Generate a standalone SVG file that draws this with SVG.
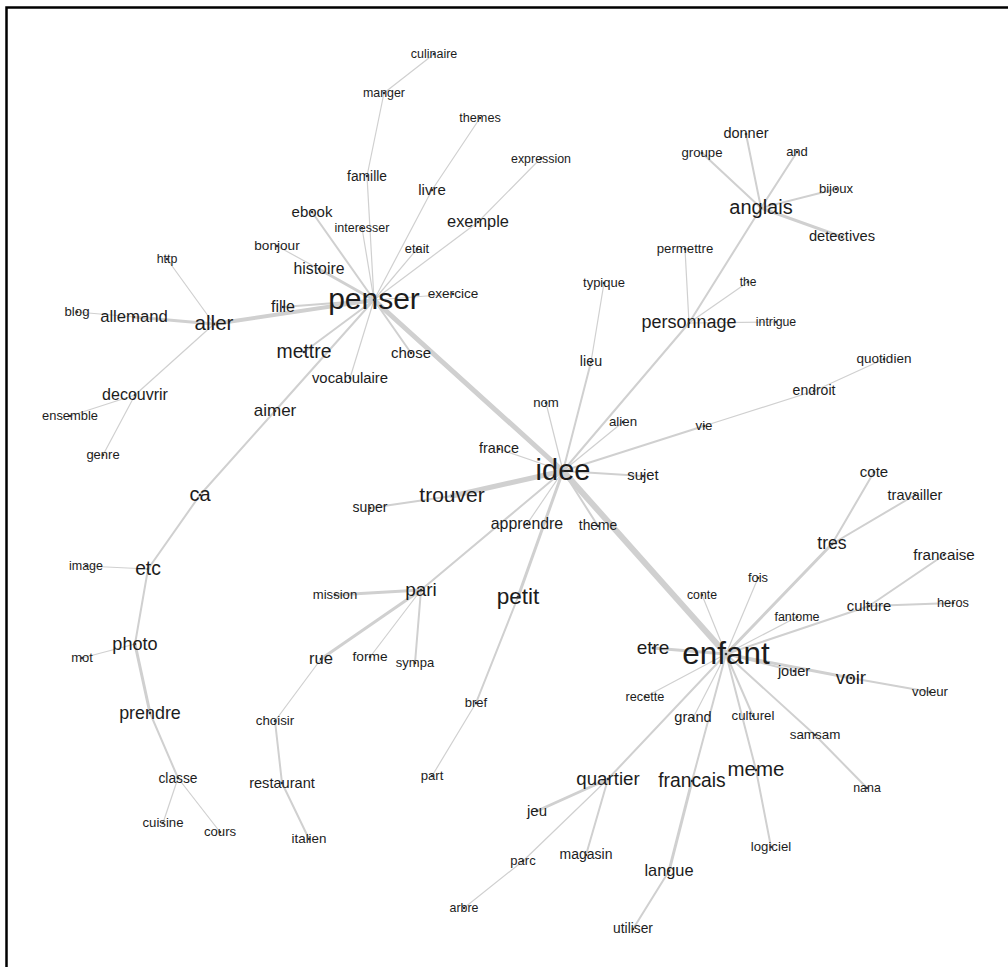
<svg xmlns="http://www.w3.org/2000/svg" width="1008" height="967" viewBox="0 0 1008 967">
<style>
.e{stroke:#d0d0d0;fill:none;stroke-linecap:round}
.w1{stroke-width:1.2}.w2{stroke-width:2}.w3{stroke-width:3}.w4{stroke-width:4}.w5{stroke-width:5}.w6{stroke-width:6}
text{font-family:"Liberation Sans",Arial,Helvetica,sans-serif;fill:#1c1c1c;text-anchor:middle}
circle{fill:#333}
</style>
<rect x="0" y="0" width="1008" height="967" fill="#ffffff"/>
<path d="M6.5 967 V7.5 H1008" fill="none" stroke="#000" stroke-width="2.5"/>
<g id="connectors">
<line class="e w1" x1="434" y1="54" x2="384" y2="93"/>
<line class="e w1" x1="384" y1="93" x2="367" y2="176"/>
<line class="e w1" x1="367" y1="176" x2="374" y2="300"/>
<line class="e w1" x1="480" y1="118" x2="432" y2="190"/>
<line class="e w1" x1="432" y1="190" x2="374" y2="300"/>
<line class="e w1" x1="541" y1="158" x2="478" y2="222"/>
<line class="e w1" x1="478" y1="222" x2="374" y2="300"/>
<line class="e w2" x1="312" y1="212" x2="374" y2="300"/>
<line class="e w1" x1="362" y1="228" x2="374" y2="300"/>
<line class="e w1" x1="277" y1="246" x2="319" y2="269"/>
<line class="e w3" x1="319" y1="269" x2="374" y2="300"/>
<line class="e w1" x1="417" y1="249" x2="374" y2="300"/>
<line class="e w1" x1="453" y1="294" x2="374" y2="300"/>
<line class="e w2" x1="283" y1="307" x2="374" y2="300"/>
<line class="e w4" x1="214" y1="324" x2="374" y2="300"/>
<line class="e w2" x1="304" y1="352" x2="374" y2="300"/>
<line class="e w1" x1="350" y1="378" x2="374" y2="300"/>
<line class="e w2" x1="411" y1="353" x2="374" y2="300"/>
<line class="e w2" x1="275" y1="411" x2="374" y2="300"/>
<line class="e w5" x1="374" y1="300" x2="563" y2="471"/>
<line class="e w1" x1="214" y1="324" x2="167" y2="259"/>
<line class="e w3" x1="214" y1="324" x2="134" y2="317"/>
<line class="e w1" x1="134" y1="317" x2="77" y2="312"/>
<line class="e w1" x1="214" y1="324" x2="135" y2="395"/>
<line class="e w1" x1="135" y1="395" x2="70" y2="416"/>
<line class="e w1" x1="135" y1="395" x2="103" y2="455"/>
<line class="e w2" x1="275" y1="411" x2="200" y2="495"/>
<line class="e w2" x1="200" y1="495" x2="148" y2="569"/>
<line class="e w1" x1="148" y1="569" x2="86" y2="566"/>
<line class="e w2" x1="148" y1="569" x2="135" y2="644"/>
<line class="e w1" x1="135" y1="644" x2="82" y2="658"/>
<line class="e w3" x1="135" y1="644" x2="150" y2="713"/>
<line class="e w2" x1="150" y1="713" x2="178" y2="778"/>
<line class="e w1" x1="178" y1="778" x2="220" y2="832"/>
<line class="e w1" x1="178" y1="778" x2="163" y2="823"/>
<line class="e w2" x1="563" y1="471" x2="421" y2="590"/>
<line class="e w3" x1="421" y1="590" x2="335" y2="595"/>
<line class="e w3" x1="421" y1="590" x2="321" y2="659"/>
<line class="e w1" x1="421" y1="590" x2="370" y2="657"/>
<line class="e w2" x1="421" y1="590" x2="415" y2="663"/>
<line class="e w1" x1="321" y1="659" x2="275" y2="721"/>
<line class="e w2" x1="275" y1="721" x2="282" y2="783"/>
<line class="e w2" x1="282" y1="783" x2="309" y2="839"/>
<line class="e w3" x1="563" y1="471" x2="518" y2="597"/>
<line class="e w2" x1="518" y1="597" x2="476" y2="703"/>
<line class="e w1" x1="476" y1="703" x2="432" y2="776"/>
<line class="e w5" x1="563" y1="471" x2="452" y2="496"/>
<line class="e w2" x1="452" y1="496" x2="370" y2="508"/>
<line class="e w1" x1="563" y1="471" x2="527" y2="524"/>
<line class="e w2" x1="563" y1="471" x2="598" y2="526"/>
<line class="e w6" x1="563" y1="471" x2="726" y2="654"/>
<line class="e w1" x1="563" y1="471" x2="499" y2="449"/>
<line class="e w1" x1="563" y1="471" x2="546" y2="403"/>
<line class="e w2" x1="563" y1="471" x2="591" y2="362"/>
<line class="e w1" x1="591" y1="362" x2="604" y2="283"/>
<line class="e w1" x1="563" y1="471" x2="623" y2="422"/>
<line class="e w2" x1="563" y1="471" x2="689" y2="323"/>
<line class="e w2" x1="689" y1="323" x2="761" y2="208"/>
<line class="e w1" x1="689" y1="323" x2="685" y2="249"/>
<line class="e w1" x1="689" y1="323" x2="748" y2="282"/>
<line class="e w1" x1="689" y1="323" x2="776" y2="322"/>
<line class="e w2" x1="761" y1="208" x2="702" y2="153"/>
<line class="e w2" x1="761" y1="208" x2="746" y2="134"/>
<line class="e w2" x1="761" y1="208" x2="797" y2="152"/>
<line class="e w2" x1="761" y1="208" x2="836" y2="189"/>
<line class="e w3" x1="761" y1="208" x2="842" y2="237"/>
<line class="e w2" x1="563" y1="471" x2="704" y2="426"/>
<line class="e w1" x1="704" y1="426" x2="814" y2="391"/>
<line class="e w1" x1="814" y1="391" x2="884" y2="359"/>
<line class="e w2" x1="563" y1="471" x2="643" y2="476"/>
<line class="e w3" x1="726" y1="654" x2="653" y2="648"/>
<line class="e w1" x1="726" y1="654" x2="702" y2="595"/>
<line class="e w1" x1="726" y1="654" x2="758" y2="578"/>
<line class="e w3" x1="726" y1="654" x2="832" y2="544"/>
<line class="e w2" x1="832" y1="544" x2="874" y2="472"/>
<line class="e w2" x1="832" y1="544" x2="915" y2="495"/>
<line class="e w1" x1="726" y1="654" x2="797" y2="617"/>
<line class="e w2" x1="726" y1="654" x2="869" y2="606"/>
<line class="e w2" x1="869" y1="606" x2="953" y2="603"/>
<line class="e w2" x1="869" y1="606" x2="944" y2="555"/>
<line class="e w2" x1="726" y1="654" x2="794" y2="671"/>
<line class="e w3" x1="726" y1="654" x2="851" y2="678"/>
<line class="e w2" x1="851" y1="678" x2="930" y2="692"/>
<line class="e w1" x1="726" y1="654" x2="645" y2="697"/>
<line class="e w1" x1="726" y1="654" x2="693" y2="718"/>
<line class="e w2" x1="726" y1="654" x2="608" y2="779"/>
<line class="e w3" x1="608" y1="779" x2="537" y2="811"/>
<line class="e w1" x1="608" y1="779" x2="523" y2="861"/>
<line class="e w1" x1="523" y1="861" x2="464" y2="908"/>
<line class="e w2" x1="608" y1="779" x2="586" y2="855"/>
<line class="e w2" x1="726" y1="654" x2="692" y2="781"/>
<line class="e w3" x1="692" y1="781" x2="669" y2="871"/>
<line class="e w2" x1="669" y1="871" x2="633" y2="929"/>
<line class="e w2" x1="726" y1="654" x2="753" y2="716"/>
<line class="e w2" x1="726" y1="654" x2="756" y2="770"/>
<line class="e w2" x1="756" y1="770" x2="771" y2="847"/>
<line class="e w2" x1="726" y1="654" x2="815" y2="735"/>
<line class="e w2" x1="815" y1="735" x2="867" y2="788"/>
</g>
<g id="n-penser"><text x="374" y="309" font-size="30">penser</text><circle cx="374" cy="300" r="1.3"/></g>
<g id="n-culinaire"><text x="434" y="58" font-size="12.5">culinaire</text><circle cx="434" cy="54" r="1.3"/></g>
<g id="n-manger"><text x="384" y="97" font-size="12.4">manger</text><circle cx="384" cy="93" r="1.3"/></g>
<g id="n-themes"><text x="480" y="122" font-size="12.7">themes</text><circle cx="480" cy="118" r="1.3"/></g>
<g id="n-expression"><text x="541" y="163" font-size="12.4">expression</text><circle cx="541" cy="158" r="1.3"/></g>
<g id="n-famille"><text x="367" y="181" font-size="13.8">famille</text><circle cx="367" cy="176" r="1.3"/></g>
<g id="n-livre"><text x="432" y="195" font-size="15">livre</text><circle cx="432" cy="190" r="1.3"/></g>
<g id="n-ebook"><text x="312" y="217" font-size="15">ebook</text><circle cx="312" cy="212" r="1.3"/></g>
<g id="n-interesser"><text x="362" y="232" font-size="12.5">interesser</text><circle cx="362" cy="228" r="1.3"/></g>
<g id="n-exemple"><text x="478" y="227" font-size="16.4">exemple</text><circle cx="478" cy="222" r="1.3"/></g>
<g id="n-bonjour"><text x="277" y="250" font-size="13.6">bonjour</text><circle cx="277" cy="246" r="1.3"/></g>
<g id="n-etait"><text x="417" y="253" font-size="12.9">etait</text><circle cx="417" cy="249" r="1.3"/></g>
<g id="n-histoire"><text x="319" y="274" font-size="15.8">histoire</text><circle cx="319" cy="269" r="1.3"/></g>
<g id="n-exercice"><text x="453" y="298" font-size="13.6">exercice</text><circle cx="453" cy="294" r="1.3"/></g>
<g id="n-fille"><text x="283" y="312" font-size="16">fille</text><circle cx="283" cy="307" r="1.3"/></g>
<g id="n-http"><text x="167" y="263" font-size="12.4">http</text><circle cx="167" cy="259" r="1.3"/></g>
<g id="n-blog"><text x="77" y="316" font-size="13.2">blog</text><circle cx="77" cy="312" r="1.3"/></g>
<g id="n-allemand"><text x="134" y="322" font-size="16.7">allemand</text><circle cx="134" cy="317" r="1.3"/></g>
<g id="n-aller"><text x="214" y="330" font-size="20.6">aller</text><circle cx="214" cy="324" r="1.3"/></g>
<g id="n-mettre"><text x="304" y="358" font-size="19.4">mettre</text><circle cx="304" cy="352" r="1.3"/></g>
<g id="n-chose"><text x="411" y="358" font-size="15">chose</text><circle cx="411" cy="353" r="1.3"/></g>
<g id="n-vocabulaire"><text x="350" y="383" font-size="14.9">vocabulaire</text><circle cx="350" cy="378" r="1.3"/></g>
<g id="n-decouvrir"><text x="135" y="400" font-size="16">decouvrir</text><circle cx="135" cy="395" r="1.3"/></g>
<g id="n-ensemble"><text x="70" y="420" font-size="12.9">ensemble</text><circle cx="70" cy="416" r="1.3"/></g>
<g id="n-aimer"><text x="275" y="416" font-size="17">aimer</text><circle cx="275" cy="411" r="1.3"/></g>
<g id="n-genre"><text x="103" y="459" font-size="13">genre</text><circle cx="103" cy="455" r="1.3"/></g>
<g id="n-ca"><text x="200" y="501" font-size="20">ca</text><circle cx="200" cy="495" r="1.3"/></g>
<g id="n-image"><text x="86" y="570" font-size="12.5">image</text><circle cx="86" cy="566" r="1.3"/></g>
<g id="n-etc"><text x="148" y="575" font-size="19.3">etc</text><circle cx="148" cy="569" r="1.3"/></g>
<g id="n-photo"><text x="135" y="650" font-size="18.1">photo</text><circle cx="135" cy="644" r="1.3"/></g>
<g id="n-mot"><text x="82" y="662" font-size="13">mot</text><circle cx="82" cy="658" r="1.3"/></g>
<g id="n-prendre"><text x="150" y="719" font-size="17.9">prendre</text><circle cx="150" cy="713" r="1.3"/></g>
<g id="n-classe"><text x="178" y="783" font-size="13.8">classe</text><circle cx="178" cy="778" r="1.3"/></g>
<g id="n-cuisine"><text x="163" y="827" font-size="13.2">cuisine</text><circle cx="163" cy="823" r="1.3"/></g>
<g id="n-cours"><text x="220" y="836" font-size="13.2">cours</text><circle cx="220" cy="832" r="1.3"/></g>
<g id="n-choisir"><text x="275" y="725" font-size="13.3">choisir</text><circle cx="275" cy="721" r="1.3"/></g>
<g id="n-restaurant"><text x="282" y="788" font-size="14.6">restaurant</text><circle cx="282" cy="783" r="1.3"/></g>
<g id="n-italien"><text x="309" y="843" font-size="13.4">italien</text><circle cx="309" cy="839" r="1.3"/></g>
<g id="n-rue"><text x="321" y="664" font-size="16.6">rue</text><circle cx="321" cy="659" r="1.3"/></g>
<g id="n-pari"><text x="421" y="596" font-size="19">pari</text><circle cx="421" cy="590" r="1.3"/></g>
<g id="n-petit"><text x="518" y="604" font-size="22.6">petit</text><circle cx="518" cy="597" r="1.3"/></g>
<g id="n-mission"><text x="335" y="599" font-size="13.1">mission</text><circle cx="335" cy="595" r="1.3"/></g>
<g id="n-forme"><text x="370" y="661" font-size="13.7">forme</text><circle cx="370" cy="657" r="1.3"/></g>
<g id="n-sympa"><text x="415" y="667" font-size="13">sympa</text><circle cx="415" cy="663" r="1.3"/></g>
<g id="n-bref"><text x="476" y="707" font-size="13">bref</text><circle cx="476" cy="703" r="1.3"/></g>
<g id="n-part"><text x="432" y="780" font-size="13.2">part</text><circle cx="432" cy="776" r="1.3"/></g>
<g id="n-typique"><text x="604" y="287" font-size="13">typique</text><circle cx="604" cy="283" r="1.3"/></g>
<g id="n-permettre"><text x="685" y="253" font-size="13.2">permettre</text><circle cx="685" cy="249" r="1.3"/></g>
<g id="n-the"><text x="748" y="286" font-size="12">the</text><circle cx="748" cy="282" r="1.3"/></g>
<g id="n-groupe"><text x="702" y="157" font-size="13.2">groupe</text><circle cx="702" cy="153" r="1.3"/></g>
<g id="n-donner"><text x="746" y="138" font-size="14.5">donner</text><circle cx="746" cy="134" r="1.3"/></g>
<g id="n-and"><text x="797" y="156" font-size="13">and</text><circle cx="797" cy="152" r="1.3"/></g>
<g id="n-bijoux"><text x="836" y="193" font-size="13.1">bijoux</text><circle cx="836" cy="189" r="1.3"/></g>
<g id="n-anglais"><text x="761" y="214" font-size="20">anglais</text><circle cx="761" cy="208" r="1.3"/></g>
<g id="n-detectives"><text x="842" y="241" font-size="14.7">detectives</text><circle cx="842" cy="237" r="1.3"/></g>
<g id="n-personnage"><text x="689" y="328" font-size="18">personnage</text><circle cx="689" cy="323" r="1.3"/></g>
<g id="n-intrigue"><text x="776" y="326" font-size="12.3">intrigue</text><circle cx="776" cy="322" r="1.3"/></g>
<g id="n-lieu"><text x="591" y="366" font-size="14.3">lieu</text><circle cx="591" cy="362" r="1.3"/></g>
<g id="n-quotidien"><text x="884" y="363" font-size="13.5">quotidien</text><circle cx="884" cy="359" r="1.3"/></g>
<g id="n-endroit"><text x="814" y="395" font-size="14">endroit</text><circle cx="814" cy="391" r="1.3"/></g>
<g id="n-nom"><text x="546" y="407" font-size="13.2">nom</text><circle cx="546" cy="403" r="1.3"/></g>
<g id="n-alien"><text x="623" y="426" font-size="13.3">alien</text><circle cx="623" cy="422" r="1.3"/></g>
<g id="n-vie"><text x="704" y="430" font-size="13.3">vie</text><circle cx="704" cy="426" r="1.3"/></g>
<g id="n-france"><text x="499" y="453" font-size="14.4">france</text><circle cx="499" cy="449" r="1.3"/></g>
<g id="n-idee"><text x="563" y="480" font-size="29">idee</text><circle cx="563" cy="471" r="1.3"/></g>
<g id="n-sujet"><text x="643" y="480" font-size="14.8">sujet</text><circle cx="643" cy="476" r="1.3"/></g>
<g id="n-trouver"><text x="452" y="502" font-size="21">trouver</text><circle cx="452" cy="496" r="1.3"/></g>
<g id="n-super"><text x="370" y="512" font-size="14">super</text><circle cx="370" cy="508" r="1.3"/></g>
<g id="n-apprendre"><text x="527" y="529" font-size="15.9">apprendre</text><circle cx="527" cy="524" r="1.3"/></g>
<g id="n-theme"><text x="598" y="530" font-size="13.8">theme</text><circle cx="598" cy="526" r="1.3"/></g>
<g id="n-cote"><text x="874" y="477" font-size="15">cote</text><circle cx="874" cy="472" r="1.3"/></g>
<g id="n-travailler"><text x="915" y="500" font-size="14.5">travailler</text><circle cx="915" cy="495" r="1.3"/></g>
<g id="n-tres"><text x="832" y="549" font-size="17.6">tres</text><circle cx="832" cy="544" r="1.3"/></g>
<g id="n-francaise"><text x="944" y="560" font-size="15.2">francaise</text><circle cx="944" cy="555" r="1.3"/></g>
<g id="n-fois"><text x="758" y="582" font-size="12.9">fois</text><circle cx="758" cy="578" r="1.3"/></g>
<g id="n-conte"><text x="702" y="599" font-size="12.3">conte</text><circle cx="702" cy="595" r="1.3"/></g>
<g id="n-fantome"><text x="797" y="621" font-size="12.5">fantome</text><circle cx="797" cy="617" r="1.3"/></g>
<g id="n-culture"><text x="869" y="611" font-size="14.8">culture</text><circle cx="869" cy="606" r="1.3"/></g>
<g id="n-heros"><text x="953" y="607" font-size="12.8">heros</text><circle cx="953" cy="603" r="1.3"/></g>
<g id="n-etre"><text x="653" y="654" font-size="19">etre</text><circle cx="653" cy="648" r="1.3"/></g>
<g id="n-enfant"><text x="726" y="664" font-size="31.4">enfant</text><circle cx="726" cy="654" r="1.3"/></g>
<g id="n-jouer"><text x="794" y="676" font-size="14.5">jouer</text><circle cx="794" cy="671" r="1.3"/></g>
<g id="n-voir"><text x="851" y="684" font-size="18.8">voir</text><circle cx="851" cy="678" r="1.3"/></g>
<g id="n-voleur"><text x="930" y="696" font-size="13.2">voleur</text><circle cx="930" cy="692" r="1.3"/></g>
<g id="n-recette"><text x="645" y="701" font-size="12.7">recette</text><circle cx="645" cy="697" r="1.3"/></g>
<g id="n-grand"><text x="693" y="722" font-size="14.6">grand</text><circle cx="693" cy="718" r="1.3"/></g>
<g id="n-culturel"><text x="753" y="720" font-size="13.3">culturel</text><circle cx="753" cy="716" r="1.3"/></g>
<g id="n-samsam"><text x="815" y="739" font-size="13.4">samsam</text><circle cx="815" cy="735" r="1.3"/></g>
<g id="n-quartier"><text x="608" y="785" font-size="18.7">quartier</text><circle cx="608" cy="779" r="1.3"/></g>
<g id="n-francais"><text x="692" y="787" font-size="19.3">francais</text><circle cx="692" cy="781" r="1.3"/></g>
<g id="n-meme"><text x="756" y="776" font-size="20.5">meme</text><circle cx="756" cy="770" r="1.3"/></g>
<g id="n-nana"><text x="867" y="792" font-size="12.4">nana</text><circle cx="867" cy="788" r="1.3"/></g>
<g id="n-jeu"><text x="537" y="816" font-size="15">jeu</text><circle cx="537" cy="811" r="1.3"/></g>
<g id="n-parc"><text x="523" y="865" font-size="13">parc</text><circle cx="523" cy="861" r="1.3"/></g>
<g id="n-magasin"><text x="586" y="859" font-size="14">magasin</text><circle cx="586" cy="855" r="1.3"/></g>
<g id="n-logiciel"><text x="771" y="851" font-size="13.2">logiciel</text><circle cx="771" cy="847" r="1.3"/></g>
<g id="n-langue"><text x="669" y="876" font-size="16.4">langue</text><circle cx="669" cy="871" r="1.3"/></g>
<g id="n-arbre"><text x="464" y="912" font-size="12.4">arbre</text><circle cx="464" cy="908" r="1.3"/></g>
<g id="n-utiliser"><text x="633" y="933" font-size="13.8">utiliser</text><circle cx="633" cy="929" r="1.3"/></g>
</svg>
